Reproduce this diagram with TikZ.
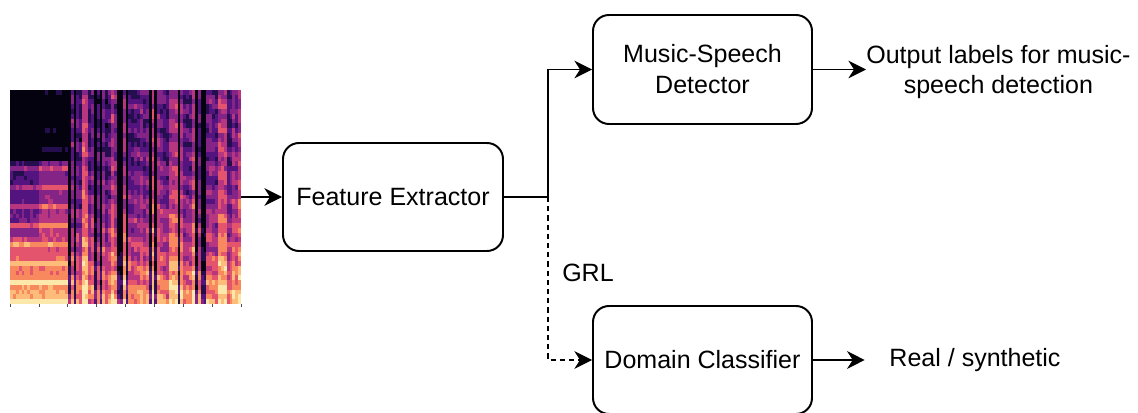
\documentclass[tikz,border=0pt]{standalone}
\usepackage{fontspec}
\setmainfont{Liberation Sans}
\usetikzlibrary{arrows.meta,positioning}
\definecolor{mag0}{RGB}{4,2,14}
\definecolor{mag1}{RGB}{36,14,78}
\definecolor{mag2}{RGB}{84,20,128}
\definecolor{mag3}{RGB}{132,36,134}
\definecolor{mag4}{RGB}{184,54,128}
\definecolor{mag5}{RGB}{228,84,108}
\definecolor{mag6}{RGB}{248,136,94}
\definecolor{mag7}{RGB}{253,188,122}
\definecolor{mag8}{RGB}{252,232,170}
\newcommand{\blockfont}{\fontsize{17.8pt}{22pt}\selectfont}
\tikzset{
  wire/.style={black,line width=1.4pt},
  flow/.style={-{Stealth[length=4.4mm,width=4.4mm,inset=1.4mm]},line width=1.4pt},
  grlflow/.style={flow,dash pattern=on 0.13cm off 0.1cm},
  block/.style={draw=black,line width=1.4pt,rounded corners=0.4cm,
                minimum width=5.475cm,minimum height=2.7cm,align=center,font=\blockfont},
  lab/.style={font=\blockfont,align=center,inner sep=0pt},
  tick/.style={black!70,line width=0.5pt},
}

\begin{document}
\begin{tikzpicture}[x=1cm,y=1cm]
  \path[use as bounding box] (0,0) rectangle (28.45,10.3);

  % spectrogram input
  \pgfmathsetseed{11}
  \foreach \c in {0,...,79}{
    \pgfmathsetmacro\ecol{rnd}
    \foreach \r in {0,...,44}{
      \pgfmathsetmacro\u{\c/79}
      \pgfmathsetmacro\v{\r/44}
      \pgfmathsetmacro\tl{0.2+0.6*(1.02-\v)^2+0.22*(mod(\r,4)==0)+0.1*rnd-0.45*(\v>0.66)-0.15*(\c<10)*(\v>0.3)}
      \pgfmathsetmacro\tr{0.45*\ecol+0.5*(1.02-\v)^2.5+0.1*sin(\r*75+\c*23)+0.15*rnd-0.35*(\ecol<0.15)}
      \pgfmathsetmacro\t{(\u<0.25)*\tl+(\u>=0.25)*\tr}
      \pgfmathtruncatemacro\lev{max(0,min(8,round(\t*8)))}
      \fill[mag\lev] (0.25+\c*0.0722,2.7+\r*0.1189) rectangle ++(0.076,0.123);
    }
  }
  \foreach \k in {0,...,8}
    \draw[tick] (0.25+\k*0.7219,2.7) -- ++(0,-0.08);
  \node[minimum width=5.775cm,minimum height=5.35cm,inner sep=0pt] (spec) at (3.1375,5.375) {};

  \node[block,minimum width=5.5cm] (fe) at (9.825,5.375) {Feature Extractor};
  \node[block,minimum height=2.725cm] (msd) at (17.5625,8.5625) {Music-Speech\\Detector};
  \node[block] (dc) at (17.5625,1.3) {Domain Classifier};
  \node[lab,anchor=west] (out) at (21.65,8.5) {Output labels for music-\\speech detection};
  \node[lab,minimum width=5.5cm] (rs) at (24.375,1.3) {Real / synthetic};
  \node[lab] (grl) at (14.7,3.475) {GRL};

  \coordinate (split) at (13.7,5.375);
  \draw[flow] (spec.east) -- (fe.west);
  \draw[wire] (fe.east) -- (split);
  \draw[flow] (split) |- (msd.west);
  \draw[grlflow] (split) |- (dc.west);
  \draw[flow] (msd.east) -- (msd.east -| out.west);
  \draw[flow] (dc.east) -- (rs.west);
\end{tikzpicture}
\end{document}
